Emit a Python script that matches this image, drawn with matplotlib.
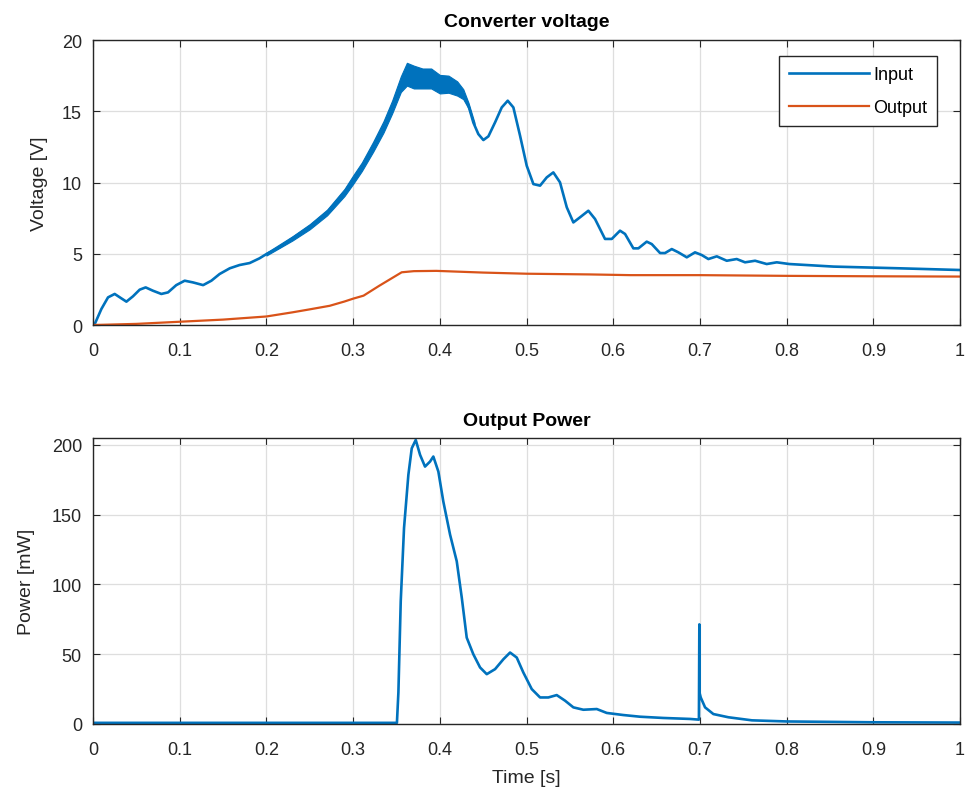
import matplotlib
matplotlib.use('Agg')
import matplotlib.pyplot as plt

plt.rcParams['font.family'] = ['Liberation Sans', 'DejaVu Sans']

# Converter voltage - input
t_in = [0.0, 0.002, 0.0096, 0.0173, 0.025, 0.0327, 0.0385, 0.046, 0.0538, 0.0607,
        0.069, 0.0788, 0.0865, 0.096, 0.1057, 0.1153, 0.127, 0.1365, 0.146, 0.1577,
        0.169, 0.1807, 0.192, 0.2, 0.215, 0.23, 0.25, 0.27, 0.29, 0.3,
        0.31, 0.323, 0.335, 0.345, 0.355, 0.362, 0.37, 0.38, 0.39, 0.40,
        0.41, 0.42, 0.427, 0.433, 0.4387, 0.4444, 0.4502, 0.456, 0.4637, 0.4714,
        0.4783, 0.4848, 0.4925, 0.5002, 0.5079, 0.5156, 0.5233, 0.5309, 0.5386, 0.5464,
        0.554, 0.5617, 0.5713, 0.579, 0.5905, 0.5983, 0.6078, 0.6136, 0.6232, 0.629,
        0.6386, 0.6444, 0.654, 0.6597, 0.6675, 0.6751, 0.6848, 0.6943, 0.7021, 0.7097,
        0.7194, 0.7309, 0.7424, 0.752, 0.7636, 0.777, 0.7886, 0.8031, 0.854, 0.93,
        1.0]
v_in = [0.0, 0.07, 1.12, 1.94, 2.18, 1.87, 1.64, 2.01, 2.48, 2.64,
        2.41, 2.18, 2.29, 2.8, 3.11, 2.99, 2.8, 3.11, 3.58, 3.98,
        4.21, 4.35, 4.68, 4.98, 5.45, 6.08, 6.9, 7.9, 9.3, 10.2,
        11.1, 12.5, 13.9, 15.3, 16.9, 17.6, 17.4, 17.3, 17.3, 16.9,
        16.9, 16.6, 16.2, 15.4, 14.2, 13.4, 12.98, 13.24, 14.22, 15.27,
        15.74, 15.27, 13.29, 11.18, 9.89, 9.78, 10.36, 10.71, 10.01, 8.26,
        7.2, 7.56, 8.02, 7.44, 6.04, 6.04, 6.62, 6.39, 5.38, 5.38,
        5.85, 5.68, 5.05, 5.05, 5.33, 5.1, 4.75, 5.1, 4.91, 4.63,
        4.82, 4.51, 4.63, 4.4, 4.51, 4.28, 4.4, 4.28, 4.1, 3.98,
        3.86]

# envelope of the noisy part of the input trace
t_band = [0.2, 0.23, 0.25, 0.27, 0.29, 0.3, 0.31, 0.323, 0.335, 0.345, 0.355,
          0.362, 0.37, 0.38, 0.39, 0.40, 0.41, 0.42, 0.427, 0.433, 0.44]
lo_band = [4.88, 5.93, 6.72, 7.7, 9.05, 9.9, 10.8, 12.15, 13.5, 14.85, 16.35,
           16.8, 16.6, 16.6, 16.6, 16.25, 16.3, 16.1, 15.85, 15.2, 14.0]
hi_band = [5.08, 6.23, 7.08, 8.1, 9.55, 10.5, 11.4, 12.85, 14.3, 15.75, 17.45,
           18.4, 18.2, 18.0, 18.0, 17.55, 17.5, 17.1, 16.55, 15.6, 14.2]

# Converter voltage - output
t_out = [0.0, 0.05, 0.1, 0.15, 0.2, 0.23, 0.25, 0.273, 0.29, 0.3, 0.312, 0.33,
         0.356, 0.37, 0.396, 0.45, 0.5, 0.573, 0.62, 0.7, 0.8, 0.9, 1.0]
v_out = [0.0, 0.08, 0.23, 0.38, 0.6, 0.89, 1.1, 1.35, 1.65, 1.85, 2.06, 2.75,
         3.7, 3.78, 3.8, 3.68, 3.6, 3.55, 3.5, 3.5, 3.45, 3.42, 3.4]

# Output power [mW]
t_p = [0.0, 0.3505, 0.3522, 0.3549, 0.3587, 0.3637, 0.3676, 0.3722, 0.3772, 0.3829,
       0.3887, 0.3925, 0.3983, 0.404, 0.4118, 0.4195, 0.4253, 0.431, 0.4386, 0.4464,
       0.4541, 0.4637, 0.4733, 0.481, 0.4887, 0.4963, 0.506, 0.5156, 0.5251, 0.5348,
       0.5444, 0.554, 0.5655, 0.581, 0.5925, 0.6117, 0.6309, 0.6578, 0.6886, 0.6988,
       0.6993, 0.6997, 0.7009, 0.7059, 0.7155, 0.7328, 0.76, 0.8, 0.9, 1.0]
p_out = [0.8, 0.8, 22.6, 88, 140.5, 178.6, 197.6, 203.6, 192.9, 184.5,
         188.1, 191.7, 180.9, 159.5, 135.7, 116.6, 90.5, 61.9, 50, 40.5,
         35.7, 39.3, 46.4, 51.2, 47.6, 36.9, 25, 19, 19, 20.7,
         16.7, 11.9, 10.2, 10.7, 7.9, 6.4, 5.2, 4.3, 3.6, 3.1,
         71.4, 22, 19, 11.9, 7.1, 4.8, 2.6, 1.8, 1.2, 1.0]

x_ticks = [0, 0.1, 0.2, 0.3, 0.4, 0.5, 0.6, 0.7, 0.8, 0.9, 1]
x_labels = ['0', '0.1', '0.2', '0.3', '0.4', '0.5', '0.6', '0.7', '0.8', '0.9', '1']

BLUE = '#0072BD'
ORANGE = '#D95319'
DARK = '#262626'


def style_axes(ax):
    ax.set_xlim(0, 1)
    ax.set_xticks(x_ticks)
    ax.set_xticklabels(x_labels)
    ax.grid(True, color='#dedede', linewidth=0.9)
    ax.set_axisbelow(True)
    ax.tick_params(direction='in', top=True, right=True, length=5,
                   labelsize=13, colors=DARK)
    ax.tick_params(axis='x', pad=12)
    ax.tick_params(axis='y', pad=8)
    for s in ax.spines.values():
        s.set_color(DARK)
        s.set_linewidth(1.0)


fig = plt.figure(figsize=(9.68, 8.04), dpi=100)

# top: converter voltage
ax1 = fig.add_axes([0.0961, 0.5945, 0.8957, 0.3545])
ax1.fill_between(t_band, lo_band, hi_band, color=BLUE, linewidth=0.8)
ax1.plot(t_in, v_in, color=BLUE, linewidth=1.9, label='Input',
         solid_joinstyle='round')
ax1.plot(t_out, v_out, color=ORANGE, linewidth=1.6, label='Output')
style_axes(ax1)
ax1.set_ylim(0, 20)
ax1.set_yticks([0, 5, 10, 15, 20])
ax1.set_ylabel('Voltage [V]', fontsize=14, color=DARK, labelpad=10)
ax1.set_title('Converter voltage', fontsize=14, fontweight='bold', pad=10)
leg = ax1.legend(loc='upper right', bbox_to_anchor=(0.9735, 0.944), borderaxespad=0,
                 fontsize=13, fancybox=False, framealpha=1, edgecolor=DARK,
                 handlelength=4.4, handletextpad=0.25, labelspacing=0.9,
                 borderpad=0.55)
leg.get_frame().set_linewidth(1.0)

# bottom: output power
ax2 = fig.add_axes([0.0961, 0.0983, 0.8957, 0.3557])
ax2.plot(t_p, p_out, color=BLUE, linewidth=1.9, solid_joinstyle='round')
style_axes(ax2)
ax2.set_ylim(0, 205)
ax2.set_yticks([0, 50, 100, 150, 200])
ax2.set_ylabel('Power [mW]', fontsize=14, color=DARK, labelpad=12)
ax2.set_xlabel('Time [s]', fontsize=14, color=DARK, labelpad=8)
ax2.set_title('Output Power', fontsize=14, fontweight='bold', pad=9)

plt.savefig('out.png', dpi=100)
plt.close()
